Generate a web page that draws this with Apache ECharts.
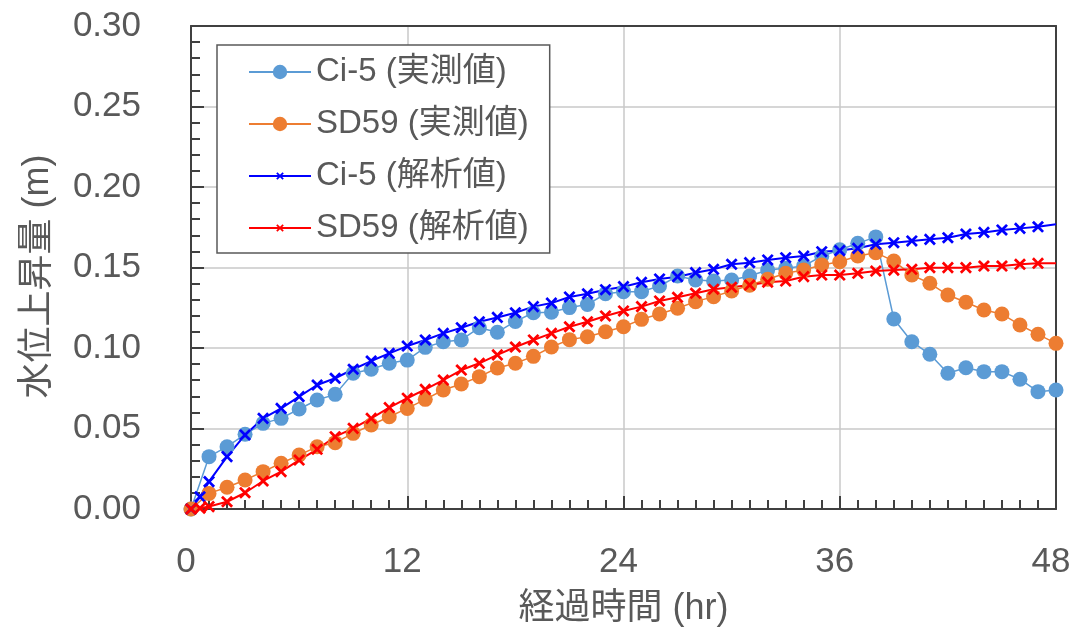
<!DOCTYPE html>
<html>
<head>
<meta charset="utf-8">
<script src="https://cdn.jsdelivr.net/npm/echarts@6/dist/echarts.min.js"></script>
<style>
html,body{margin:0;padding:0;background:#fff;}
#chart{width:1075px;height:632px;}
</style>
</head>
<body>
<div id="chart"></div>
<script>
// ---- data ----
const seriesNames = ['Ci-5 (実測値)', 'SD59 (実測値)', 'Ci-5 (解析値)', 'SD59 (解析値)'];
const xTickLabels = ['0', '12', '24', '36', '48'];
const yTickLabels = ['0.00', '0.05', '0.10', '0.15', '0.20', '0.25', '0.30'];
const xTitle = '経過時間 (hr)';
const yTitle = '水位上昇量 (m)';

// measured hours 0..48
const measHours = [0,1,2,3,4,5,6,7,8,9,10,11,12,13,14,15,16,17,18,19,20,21,22,23,24,
  25,26,27,28,29,30,31,32,33,34,35,36,37,38,39,40,41,42,43,44,45,46,47,48];
const ci5Measured = [0,0.0325,0.0387,0.0464,0.0532,0.0563,0.0621,0.0677,0.0712,0.0843,0.0868,
  0.0905,0.0925,0.1004,0.1039,0.1050,0.1126,0.1098,0.1165,0.1219,0.1222,0.1251,0.1270,0.1337,
  0.1350,0.1350,0.1385,0.1447,0.1422,0.1416,0.1422,0.1447,0.1484,0.1495,0.1510,0.1570,0.1610,
  0.1650,0.1690,0.1180,0.1039,0.0961,0.0843,0.0877,0.0853,0.0853,0.0806,0.0729,0.0739];
const sd59Measured = [0,0.0097,0.0135,0.0180,0.0232,0.0284,0.0335,0.0387,0.0412,0.0470,0.0522,
  0.0573,0.0625,0.0681,0.0739,0.0776,0.0822,0.0876,0.0905,0.0948,0.1006,0.1052,0.1070,0.1101,
  0.1132,0.1178,0.1211,0.1247,0.1288,0.1319,0.1354,0.1390,0.1427,0.1464,0.1484,0.1516,0.1536,
  0.1571,0.1592,0.1540,0.1453,0.1402,0.1329,0.1284,0.1236,0.1211,0.1143,0.1085,0.1029];

// analysis hours
const calcHours = [0,0.5,1,2,3,4,5,6,7,8,9,10,11,12,13,14,15,16,17,18,19,20,21,22,23,24,
  25,26,27,28,29,30,31,32,33,34,35,36,37,38,39,40,41,42,43,44,45,46,47,48];
const ci5Calc = [0,0.0076,0.0170,0.0325,0.0460,0.0563,0.0625,0.0698,0.0770,0.0812,0.0868,0.0919,
  0.0967,0.1012,0.1050,0.1091,0.1126,0.1163,0.1190,0.1219,0.1257,0.1279,0.1317,0.1337,0.1362,
  0.1381,0.1408,0.1429,0.1443,0.1468,0.1489,0.1520,0.1530,0.1547,0.1561,0.1571,0.1598,0.1605,
  0.1619,0.1644,0.1654,0.1665,0.1675,0.1685,0.1708,0.1718,0.1733,0.1743,0.1753,0.1768];
const sd59Calc = [0,0.0005,0.0015,0.0045,0.0101,0.0174,0.0232,0.0304,0.0371,0.0449,0.0501,0.0563,
  0.0630,0.0688,0.0743,0.0801,0.0863,0.0905,0.0957,0.1006,0.1050,0.1091,0.1132,0.1163,0.1199,
  0.1230,0.1257,0.1292,0.1315,0.1340,0.1365,0.1377,0.1391,0.1409,0.1416,0.1443,0.1453,0.1453,
  0.1464,0.1478,0.1484,0.1489,0.1499,0.1499,0.1499,0.1509,0.1509,0.1520,0.1526,0.1526];

// ---- chart ----
const zip = (xs, ys) => xs.map((x, i) => [x, ys[i]]);
const FONT = "'Liberation Sans', Arial, 'Noto Sans CJK JP', sans-serif";
const TXT = '#595959';
const AX = '#404040';
// X-shaped marker with transparent padding so the legend icon is smaller
const CROSS = 'path://M-4.5,-4.5L-4.5,-4.5ZM14.5,14.5L14.5,14.5ZM0,1.6L1.6,0L5,3.4L8.4,0L10,1.6L6.6,5L10,8.4L8.4,10L5,6.6L1.6,10L0,8.4L3.4,5Z';

const chart = echarts.init(document.getElementById('chart'), null, {renderer: 'canvas'});
const xLabelMap = {};
xTickLabels.forEach(l => xLabelMap[Number(l)] = l);

const tickCommon = {
  axisLine: {show: true, onZero: false, lineStyle: {color: AX, width: 2}},
  axisTick: {show: true, inside: true, length: 13, lineStyle: {color: AX, width: 2}},
  minorSplitLine: {show: false}
};

chart.setOption({
  animation: false,
  backgroundColor: '#ffffff',
  textStyle: {fontFamily: FONT, color: TXT},
  grid: {left: 191, right: 19, top: 26, bottom: 123},
  legend: {
    orient: 'vertical', left: 217, top: 45,
    padding: [10, 21, 8, 31],
    itemGap: 18, itemWidth: 62, itemHeight: 18,
    borderColor: '#595959', borderWidth: 1.5, backgroundColor: '#ffffff',
    textStyle: {fontFamily: FONT, fontSize: 33, color: TXT, lineHeight: 34},
    data: seriesNames
  },
  xAxis: [{
    type: 'value', min: 0, max: 48, interval: 12, position: 'bottom',
    name: xTitle, nameLocation: 'middle', nameGap: 82,
    nameTextStyle: {fontFamily: FONT, fontSize: 36, color: TXT},
    ...tickCommon,
    minorTick: {show: true, splitNumber: 12, length: 9, lineStyle: {color: AX, width: 2}},
    splitLine: {show: true, showMinLine: false, showMaxLine: false, lineStyle: {color: '#c8c8c8', width: 1.5}},
    axisLabel: {fontFamily: FONT, fontSize: 35, color: TXT, margin: 36, padding: [0, 10, 0, 0],
      formatter: v => xLabelMap[v] !== undefined ? xLabelMap[v] : ''}
  }, {
    type: 'value', min: 0, max: 48, interval: 12, position: 'top',
    axisLine: {show: true, onZero: false, lineStyle: {color: AX, width: 2}},
    axisTick: {show: false}, axisLabel: {show: false}, splitLine: {show: false}
  }],
  yAxis: [{
    type: 'value', min: 0, max: 0.3, interval: 0.05, position: 'left',
    name: yTitle, nameLocation: 'middle', nameGap: 135, nameRotate: 90,
    nameTextStyle: {fontFamily: FONT, fontSize: 36, color: TXT, padding: [0, 18, 0, 0]},
    ...tickCommon,
    minorTick: {show: true, splitNumber: 5, length: 9, lineStyle: {color: AX, width: 2}},
    splitLine: {show: true, showMinLine: false, showMaxLine: false, lineStyle: {color: '#c8c8c8', width: 1.5}},
    axisLabel: {fontFamily: FONT, fontSize: 35, color: TXT, margin: 50,
      formatter: v => yTickLabels[Math.round(v / 0.05)] || ''}
  }, {
    type: 'value', min: 0, max: 0.3, interval: 0.05, position: 'right',
    axisLine: {show: true, onZero: false, lineStyle: {color: AX, width: 2}},
    axisTick: {show: false}, axisLabel: {show: false}, splitLine: {show: false}
  }],
  series: [
    {name: seriesNames[0], type: 'line', data: zip(measHours, ci5Measured),
      symbol: 'circle', symbolSize: 15, color: '#5B9BD5',
      lineStyle: {width: 1.5, color: '#5B9BD5'}, itemStyle: {color: '#5B9BD5'}},
    {name: seriesNames[1], type: 'line', data: zip(measHours, sd59Measured),
      symbol: 'circle', symbolSize: 15, color: '#ED7D31',
      lineStyle: {width: 1.5, color: '#ED7D31'}, itemStyle: {color: '#ED7D31'}},
    {name: seriesNames[2], type: 'line', data: zip(calcHours, ci5Calc),
      symbol: CROSS, symbolSize: v => (v[0] >= 48 ? 0 : 23), color: '#0000FF',
      lineStyle: {width: 2, color: '#0000FF'}, itemStyle: {color: '#0000FF'}},
    {name: seriesNames[3], type: 'line', data: zip(calcHours, sd59Calc),
      symbol: CROSS, symbolSize: v => (v[0] >= 48 ? 0 : 23), color: '#FF0000',
      lineStyle: {width: 2, color: '#FF0000'}, itemStyle: {color: '#FF0000'}}
  ]
});
</script>
</body>
</html>
